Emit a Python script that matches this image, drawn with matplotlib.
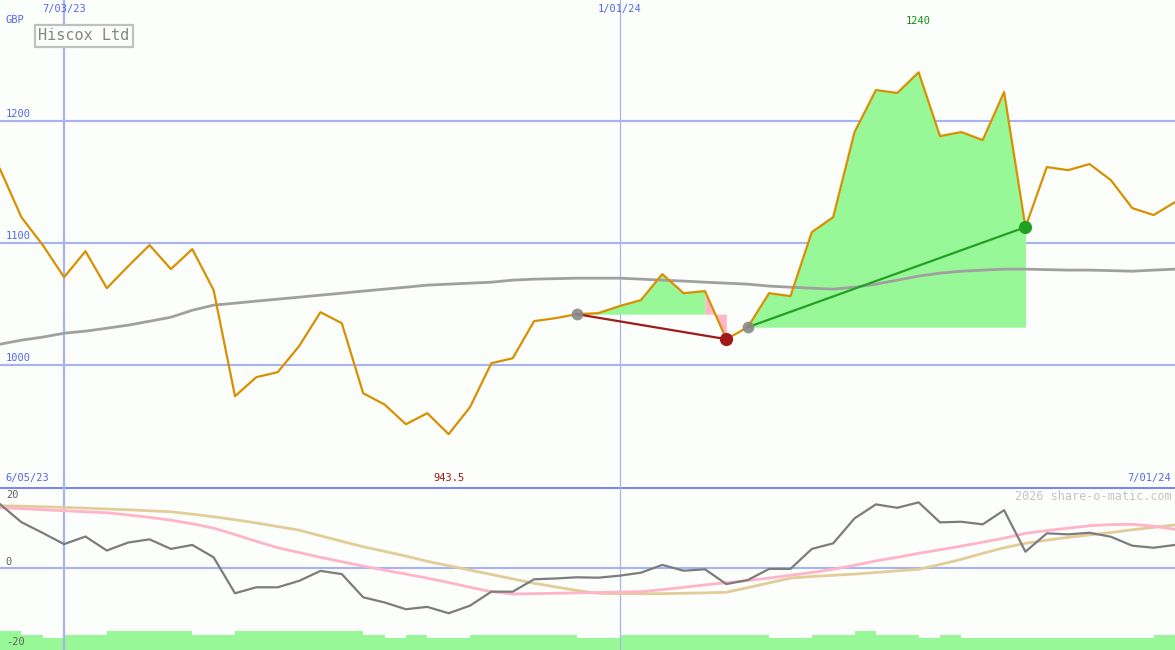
import numpy as np
import matplotlib
matplotlib.use('Agg')
import matplotlib.pyplot as plt

# weekly closes, GBP pence
price = [1160.7, 1121.3, 1098.4, 1072.1, 1093.4, 1063.1, 1081.1, 1098.4, 1078.7, 1095.1,
         1061.5, 974.6, 990.2, 994.3, 1015.6, 1043.4, 1034.4, 977.0, 967.8, 951.6,
         960.7, 943.5, 965.6, 1001.6, 1005.7, 1036.1, 1038.5, 1041.8, 1042.6, 1048.4,
         1053.3, 1074.6, 1059.0, 1060.7, 1021.3, 1031.1, 1059.0, 1056.6, 1109.0, 1121.3,
         1191.0, 1225.4, 1223.0, 1240.0, 1187.7, 1191.0, 1184.4, 1223.8, 1113.1, 1162.3,
         1159.8, 1164.8, 1151.6, 1128.7, 1123.0, 1133.6]

ma_long = [1017.2, 1020.5, 1023.0, 1026.2, 1027.9, 1030.3, 1032.8, 1036.0, 1039.3, 1045.0,
           1049.2, 1050.8, 1052.5, 1054.1, 1055.7, 1057.4, 1059.0, 1060.7, 1062.3, 1063.9,
           1065.6, 1066.4, 1067.2, 1068.0, 1069.7, 1070.5, 1070.9, 1071.3, 1071.3, 1071.3,
           1070.5, 1069.7, 1068.9, 1068.0, 1067.2, 1066.4, 1064.8, 1063.9, 1063.1, 1062.3,
           1063.9, 1066.4, 1069.7, 1073.0, 1075.4, 1077.0, 1077.9, 1078.7, 1078.7, 1078.3,
           1077.9, 1077.9, 1077.5, 1077.0, 1077.9, 1078.7]

# oscillator panel
osc = [15.9, 11.4, 8.7, 5.9, 7.8, 4.3, 6.3, 7.1, 4.7, 5.7,
       2.6, -6.4, -4.9, -4.9, -3.3, -0.8, -1.6, -7.4, -8.7, -10.4,
       -9.8, -11.4, -9.5, -6.0, -6.0, -2.9, -2.7, -2.4, -2.5, -2.0,
       -1.25, 0.7, -0.75, -0.4, -4.1, -3.1, -0.3, -0.3, 4.7, 6.1,
       12.35, 15.85, 15.0, 16.35, 11.35, 11.5, 10.85, 14.4, 4.0, 8.6,
       8.35, 8.75, 7.75, 5.5, 5.0, 5.7]

osc_fast = [15.0, 14.8, 14.5, 14.25, 14.0, 13.75, 13.2, 12.6, 11.9, 11.0,
            9.9, 8.3, 6.6, 5.0, 3.8, 2.6, 1.5, 0.4, -0.6, -1.6,
            -2.6, -3.7, -4.9, -6.0, -6.6, -6.5, -6.4, -6.3, -6.2, -6.1,
            -6.0, -5.5, -4.9, -4.3, -3.75, -3.2, -2.6, -1.9, -1.2, -0.4,
            0.6, 1.7, 2.6, 3.6, 4.5, 5.4, 6.4, 7.4, 8.6, 9.3,
            9.9, 10.5, 10.8, 10.85, 10.4, 9.6]

osc_slow = [15.5, 15.4, 15.25, 15.1, 14.9, 14.7, 14.5, 14.25, 14.0, 13.4,
            12.75, 12.0, 11.2, 10.3, 9.4, 8.0, 6.6, 5.25, 4.1, 2.9,
            1.6, 0.5, -0.6, -1.7, -2.8, -3.9, -4.8, -5.7, -6.4, -6.5,
            -6.5, -6.5, -6.4, -6.3, -6.15, -5.0, -3.8, -2.6, -2.2, -1.9,
            -1.6, -1.2, -0.8, -0.4, 0.8, 2.1, 3.6, 5.0, 6.1, 6.9,
            7.6, 8.2, 8.8, 9.5, 10.1, 10.7]

# volume per week (millions)
vol = [1.9, 1.5, 1.2, 1.5, 1.5, 1.9, 1.9, 1.9, 1.9, 1.5,
       1.5, 1.9, 1.9, 1.9, 1.9, 1.9, 1.9, 1.5, 1.2, 1.5,
       1.2, 1.2, 1.5, 1.5, 1.5, 1.5, 1.5, 1.2, 1.2, 1.5,
       1.5, 1.5, 1.5, 1.5, 1.5, 1.5, 1.2, 1.2, 1.5, 1.5,
       1.9, 1.5, 1.5, 1.2, 1.5, 1.2, 1.2, 1.2, 1.2, 1.2,
       1.2, 1.2, 1.2, 1.2, 1.5]

price_levels = [1000, 1100, 1200]
price_labels = ['1000', '1100', '1200']
osc_levels = [20, 0, -20]
date_idx = [3, 29]
date_labels = ['7/03/23', '1/01/24']
start_label = '6/05/23'
end_label = '7/01/24'
trades = [(27, 34), (35, 48)]   # (entry week, exit week)

BG = '#fbfefb'
GRID = '#a8b4f2'
TXT = '#5565f0'
ORANGE = '#d99000'
GREEN_FILL = '#98f898'
PINK = '#ffb6c8'
MONO = 'DejaVu Sans Mono'

W, H = 1175, 650
top_h = 487

fig = plt.figure(figsize=(W / 100, H / 100), dpi=100)
fig.patch.set_facecolor(BG)
ax = fig.add_axes([0, 1 - top_h / H, 1, top_h / H])
axb = fig.add_axes([0, 0, 1, 1 - top_h / H])
axv = axb.twinx()
axb.set_zorder(axv.get_zorder() + 1)

x = np.arange(len(price))
p = np.array(price)

# ---- price panel
ax.set_xlim(0, len(price) - 1)
ax.set_ylim(900.2, 1299.2)
ax.set_axis_off()

for lv, lab in zip(price_levels, price_labels):
    ax.axhline(lv, color=GRID, lw=1.5, zorder=1)
    ax.text(0.005, lv + 1.5, lab, transform=ax.get_yaxis_transform(), color=TXT,
            fontsize=7.5, family=MONO, va='bottom', ha='left')
ax.axvline(date_idx[0], color=GRID, lw=1.6, zorder=1)
ax.axvline(date_idx[1], color=GRID, lw=0.9, zorder=1)
for i, lab in zip(date_idx, date_labels):
    ax.text(i, 1 - 9 / top_h, lab, transform=ax.get_xaxis_transform(), color=TXT,
            fontsize=7.5, family=MONO, ha='center', va='center')
ax.text(0.005, 1 - 20 / top_h, 'GBP', transform=ax.transAxes, color=TXT,
        fontsize=7.5, family=MONO, ha='left', va='center')

ax.plot(x, ma_long, color='#a0a0a0', lw=2.0, zorder=2)

for s, e in trades:
    entry = p[s]
    win = p[e] > entry
    g_end = e if win else e - 1
    xs, ps = x[s:g_end + 1], p[s:g_end + 1]
    ax.fill_between(xs, ps, entry, where=ps >= entry, interpolate=True,
                    color=GREEN_FILL, lw=0, zorder=1.5)
    if not win:
        ax.fill_between(x[e - 1:e + 1], p[e - 1:e + 1], entry,
                        color=PINK, lw=0, zorder=1.5)

ax.plot(x, price, color=ORANGE, lw=1.6, zorder=3)

for s, e in trades:
    win = p[e] > p[s]
    c = '#22a022' if win else '#a01a1a'
    ax.plot([s, e], [p[s], p[e]], color=c, lw=1.6, zorder=4)
    ax.plot(s, p[s], 'o', color='#888888', ms=8.5, mec='none', zorder=5, alpha=0.9)
    ax.plot(e, p[e], 'o', color=c, ms=9.5, mec='none', zorder=5)

imax = int(np.argmax(p))
imin = int(np.argmin(p))
ax.text(imax, 1 - 21 / top_h, f'{p[imax]:g}', transform=ax.get_xaxis_transform(),
        color='#119011', fontsize=7.5, family=MONO, ha='center', va='center')
ax.text(imin, 1 - 478 / top_h, f'{p[imin]:g}', transform=ax.get_xaxis_transform(),
        color='#a01515', fontsize=7.5, family=MONO, ha='center', va='center')
ax.text(0.005, 1 - 478 / top_h, start_label, transform=ax.transAxes, color=TXT,
        fontsize=7.5, family=MONO, ha='left', va='center')
ax.text(0.997, 1 - 478 / top_h, end_label, transform=ax.transAxes, color=TXT,
        fontsize=7.5, family=MONO, ha='right', va='center')

ax.text(38 / W, 1 - 36 / top_h, 'Hiscox Ltd', transform=ax.transAxes, color='#858585',
        fontsize=11, family=MONO, ha='left', va='center', zorder=6,
        bbox=dict(boxstyle='square,pad=0.22', fc=BG, ec='#c0c0c0', lw=1.6))

# ---- oscillator panel
axb.set_xlim(0, len(price) - 1)
axb.set_ylim(-20.6, 20.2)
axb.set_axis_off()
axv.set_xlim(0, len(price) - 1)
axv.set_ylim(0, 16.2)
axv.set_axis_off()

axv.bar(np.arange(len(vol)) + 0.5, vol, width=1.0, color=GREEN_FILL, lw=0)

axb.axhline(0, color=GRID, lw=1.5, zorder=1)
axb.axhline(20.2, color='#7888f0', lw=2.2, zorder=1)
axb.axvline(date_idx[0], color=GRID, lw=1.6, zorder=1)
axb.axvline(date_idx[1], color=GRID, lw=0.9, zorder=1)

axb.plot(x, osc_slow, color='#e2cc98', lw=2.0, zorder=2)
axb.plot(x, osc_fast, color='#ffb4c8', lw=2.0, zorder=2)
axb.plot(x, osc, color='#7c7c7c', lw=1.6, zorder=3)

osc_pos = [495, 562, 642]
for lv, yp in zip(osc_levels, osc_pos):
    axb.text(0.005, 1 - (yp - top_h) / (H - top_h), str(lv), transform=axb.transAxes,
             color='#606060', fontsize=7.5, family=MONO, ha='left', va='center')
axb.text(0.997, 1 - (496 - top_h) / (H - top_h), '2026 share-o-matic.com',
         transform=axb.transAxes, color='#c4c4c4', fontsize=8.5,
         family=MONO, ha='right', va='center')

fig.savefig('out.png', dpi=100, facecolor=BG)
